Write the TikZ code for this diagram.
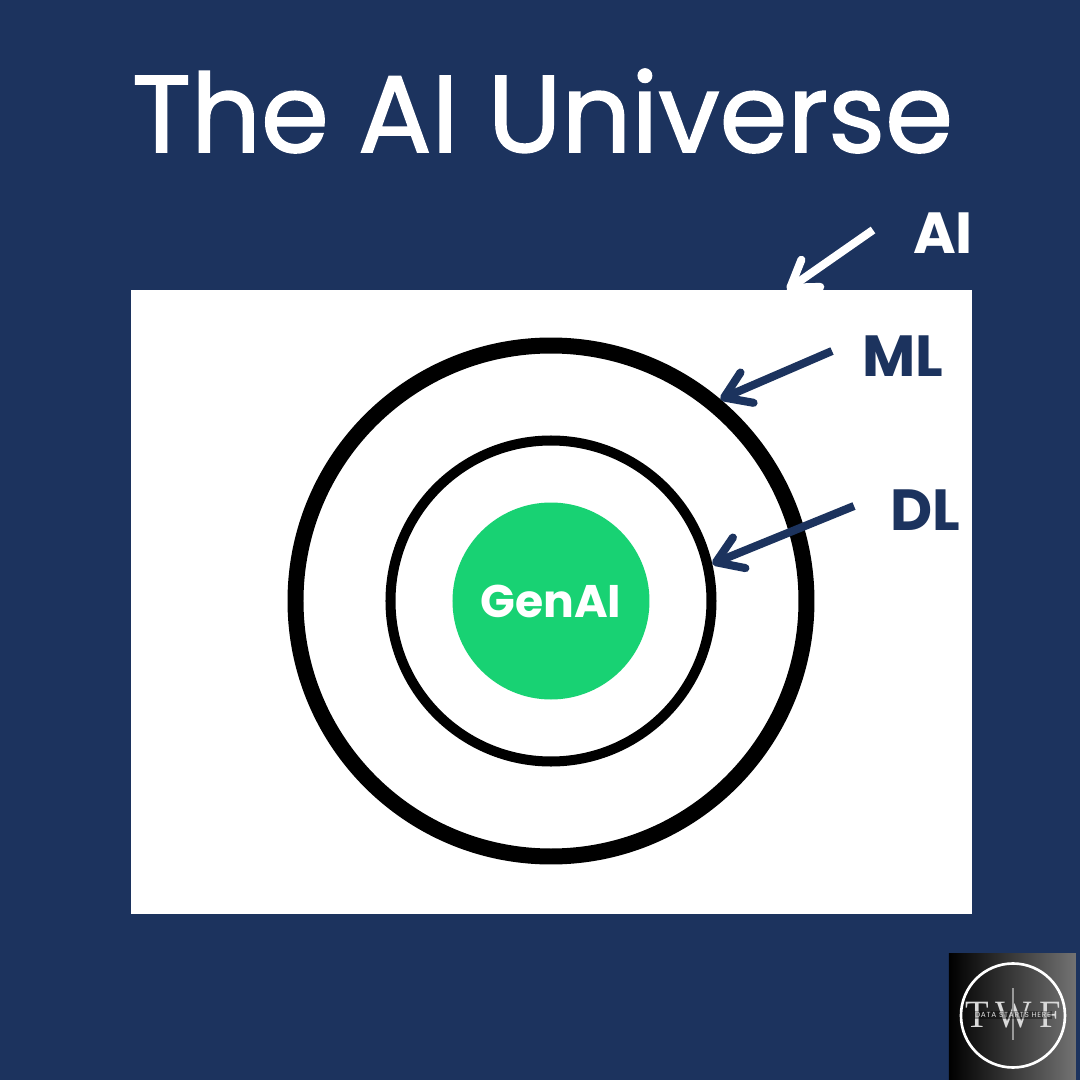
\documentclass[tikz,border=0pt]{standalone}
\usepackage{fontspec}
\setmainfont{Poppins}
\newfontfamily\logofont{Liberation Serif}
\usetikzlibrary{arrows.meta}
\definecolor{navy}{HTML}{1C335E}
\definecolor{genai}{HTML}{18D273}
\tikzset{
  pointer/.style={line width=2.3pt, -{Straight Barb[length=2.5mm, width=3.3mm, round]}},
  tag/.style={font=\fontsize{16.5}{16.5}\selectfont\bfseries, text=navy, inner sep=0pt},
  ring/.style={circle, draw=black, fill=white, inner sep=0pt}
}
\begin{document}
\begin{tikzpicture}[x=0.1mm, y=0.1mm]
  \fill[navy] (0,0) rectangle (1080,1080);
  \node (title) at (542.5,969) [text=white, inner sep=0pt, font=\fontsize{31.1}{31.1}\selectfont\addfontfeature{FakeBold=1.4}] {The AI Universe};
  \node (aibox) at (551.5,478) [fill=white, minimum width=84.1mm, minimum height=62.4mm, inner sep=0pt] {};
  \node (mlring) at (551,479) [ring, line width=4.55pt, minimum size=51.1mm] {};
  \node (dlring) at (551,479) [ring, line width=2.85pt, minimum size=32.1mm] {};
  \node (genai) at (551,479) [circle, fill=genai, minimum size=19.7mm, inner sep=0pt, text=white, font=\fontsize{13}{13}\selectfont\bfseries] {GenAI};
  % labels
  \node (ailabel) at (943,847) [tag, text=white] {AI};
  \node (mllabel) at (903,724) [tag] {ML};
  \node (dllabel) at (925,570) [tag] {DL};
  % free ends of the arrows
  \coordinate (aistart) at (873,850);
  \coordinate (aitip) at (787,790);
  \coordinate (mlstart) at (832,729);
  \coordinate (dlstart) at (854,574);
  \draw[pointer, white] (aistart) -- (aitip);
  \draw[pointer, navy] (mlstart) -- (mlring.50);
  \draw[pointer, navy] (dlstart) -- (dlring.13);
  % logo
  \node (logo) at (1012.5,63.5) [left color=black, right color=black!55!white, minimum size=12.7mm, inner sep=0pt] {};
  \node (seal) at (1013,64.5) [circle, draw=white, line width=0.75pt, minimum size=10.4mm, inner sep=0pt] {};
  \node (twf) at (1013,65) [text=white!85!black, inner sep=0pt, font=\logofont\fontsize{11}{11}\selectfont\addfontfeature{LetterSpace=18}] {TWF};
  \draw[white!60!black, line width=0.3pt] (seal.center) ++(0,27.5) -- ++(0,-52);
  \node (motto) at (1013,65) [fill=black, fill opacity=0.35, text opacity=1, text=white!85!black, inner sep=0.4pt, font=\fontsize{2.1}{2.1}\selectfont\addfontfeature{LetterSpace=10}] {DATA STARTS HERE};
\end{tikzpicture}
\end{document}
